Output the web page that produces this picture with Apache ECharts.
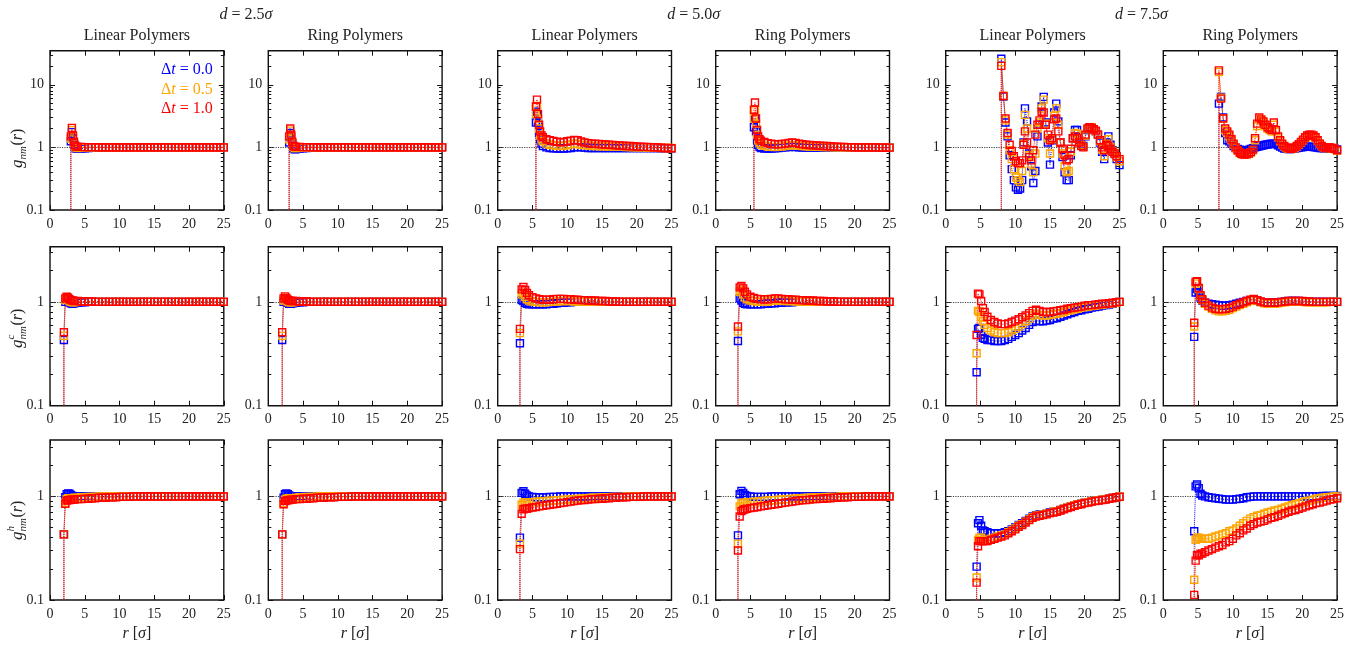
<!DOCTYPE html>
<html>
<head>
<meta charset="utf-8">
<script src="https://cdn.jsdelivr.net/npm/echarts@6/dist/echarts.min.js"></script>
<style>
  html, body { margin: 0; padding: 0; background: #fff; }
  #chart { width: 1367px; height: 654px; }
</style>
</head>
<body>
<div id="chart"></div>
<script>
// ---------- sampling grids r [sigma] ----------
const R_G25 = [3.0,3.15,3.3,3.45,3.6,3.8,4.0,
  4.5,5,5.5,6,6.5,7,7.5,8,8.5,9,
  9.5,10,10.5,11,11.5,12,12.5,13,13.5,14,
  14.5,15,15.5,16,16.5,17,17.5,18,18.5,19,
  19.5,20,20.5,21,21.5,22,22.5,23,23.5,24,
  24.5,25];
const R_C25 = [2.0,2.2,2.4,2.6,2.8,3.0,3.25,3.5,
  4,4.5,5,5.5,6,6.5,7,7.5,8,8.5,
  9,9.5,10,10.5,11,11.5,12,12.5,13,13.5,
  14,14.5,15,15.5,16,16.5,17,17.5,18,18.5,
  19,19.5,20,20.5,21,21.5,22,22.5,23,23.5,
  24,24.5,25];
const R_G50 = [5.5,5.65,5.8,5.95,6.1,6.3,6.5,
  7,7.5,8,8.5,9,9.5,10,10.5,11,11.5,
  12,12.5,13,13.5,14,14.5,15,15.5,16,16.5,
  17,17.5,18,18.5,19,19.5,20,20.5,21,21.5,
  22,22.5,23,23.5,24,24.5,25];
const R_C50 = [3.2,3.45,3.7,3.95,4.2,
  4.5,5,5.5,6,6.5,7,7.5,8,8.5,9,
  9.5,10,10.5,11,11.5,12,12.5,13,13.5,14,
  14.5,15,15.5,16,16.5,17,17.5,18,18.5,19,
  19.5,20,20.5,21,21.5,22,22.5,23,23.5,24,
  24.5,25];
const R_G75 = [8.0,8.3,8.6,8.9,9.2,9.5,9.8,10.1,10.4,10.7,
  11.0,11.2,11.4,11.7,12.0,12.3,12.6,12.9,13.2,13.5,
  13.8,14.1,14.4,14.7,15.0,15.3,15.6,15.9,16.2,16.5,
  16.8,17.1,17.4,17.7,18.0,18.3,18.6,18.9,19.2,19.5,
  19.8,20.1,20.4,20.7,21.0,21.3,21.6,21.9,22.2,22.5,
  22.8,23.1,23.4,23.7,24.0,24.3,24.6,25.0];
const R_C75 = [4.45,4.65,4.85,5.1,5.35,5.6,
  6,6.5,7,7.5,8,8.5,9,9.5,10,10.5,
  11,11.5,12,12.5,13,13.5,14,14.5,15,15.5,
  16,16.5,17,17.5,18,18.5,19,19.5,20,20.5,
  21,21.5,22,22.5,23,23.5,24,24.5,25];

// ---------- g_nm(r), d = 2.5 ----------
const G_LIN25_B = [1.25,1.75,1.4,1.12,1.0,0.96,0.95,
  0.96,0.97,0.98,0.99,0.99,1,1,1,1,1,
  1,1,1,1,1,1,1,1,1,1,
  1,1,1,1,1,1,1,1,1,1,
  1,1,1,1,1,1,1,1,1,1,
  1,1];
const G_LIN25_O = [1.38,1.9,1.5,1.17,1.03,0.99,0.98,
  0.99,0.99,1,1,1,1,1,1,1,1,
  1,1,1,1,1,1,1,1,1,1,
  1,1,1,1,1,1,1,1,1,1,
  1,1,1,1,1,1,1,1,1,1,
  1,1];
const G_LIN25_R = [1.5,2.05,1.55,1.22,1.07,1.03,1.02,
  1.02,1.01,1.01,1.01,1.01,1,1,1,1,1,
  1,1,1,1,1,1,1,1,1,1,
  1,1,1,1,1,1,1,1,1,1,
  1,1,1,1,1,1,1,1,1,1,
  1,1];
const G_RING25_B = [1.2,1.7,1.45,1.15,0.98,0.93,0.94,
  0.96,0.97,0.98,0.99,1,1,1,1,1,1,
  1,1,1,1,1,1,1,1,1,1,
  1,1,1,1,1,1,1,1,1,1,
  1,1,1,1,1,1,1,1,1,1,
  1,1];
const G_RING25_O = [1.35,1.85,1.5,1.18,1.02,0.98,0.98,
  0.99,0.99,1,1,1,1,1,1,1,1,
  1,1,1,1,1,1,1,1,1,1,
  1,1,1,1,1,1,1,1,1,1,
  1,1,1,1,1,1,1,1,1,1,
  1,1];
const G_RING25_R = [1.5,2.0,1.6,1.22,1.06,1.03,1.02,
  1.02,1.01,1.01,1.01,1,1,1,1,1,1,
  1,1,1,1,1,1,1,1,1,1,
  1,1,1,1,1,1,1,1,1,1,
  1,1,1,1,1,1,1,1,1,1,
  1,1];

// ---------- g^c_nm(r), d = 2.5 ----------
const GC_LIN25_B = [0.43,1.0,1.05,1.02,0.99,0.97,0.96,0.97,
  0.98,0.99,0.99,1,1,1,1,1,1,1,
  1,1,1,1,1,1,1,1,1,1,
  1,1,1,1,1,1,1,1,1,1,
  1,1,1,1,1,1,1,1,1,1,
  1,1,1];
const GC_LIN25_O = [0.47,1.04,1.09,1.06,1.02,1.0,0.99,0.99,
  1,1,1,1,1,1,1,1,1,1,
  1,1,1,1,1,1,1,1,1,1,
  1,1,1,1,1,1,1,1,1,1,
  1,1,1,1,1,1,1,1,1,1,
  1,1,1];
const GC_LIN25_R = [0.51,1.08,1.12,1.1,1.06,1.04,1.03,1.02,
  1.02,1.01,1.01,1.01,1.01,1,1,1,1,1,
  1,1,1,1,1,1,1,1,1,1,
  1,1,1,1,1,1,1,1,1,1,
  1,1,1,1,1,1,1,1,1,1,
  1,1,1];
const GC_RING25_B = [0.43,1.0,1.06,1.02,0.98,0.96,0.96,0.97,
  0.98,0.99,0.99,1,1,1,1,1,1,1,
  1,1,1,1,1,1,1,1,1,1,
  1,1,1,1,1,1,1,1,1,1,
  1,1,1,1,1,1,1,1,1,1,
  1,1,1];
const GC_RING25_O = [0.47,1.03,1.09,1.05,1.01,0.99,0.99,0.99,
  1,1,1,1,1,1,1,1,1,1,
  1,1,1,1,1,1,1,1,1,1,
  1,1,1,1,1,1,1,1,1,1,
  1,1,1,1,1,1,1,1,1,1,
  1,1,1];
const GC_RING25_R = [0.51,1.08,1.13,1.09,1.05,1.03,1.02,1.02,
  1.02,1.01,1.01,1.01,1,1,1,1,1,1,
  1,1,1,1,1,1,1,1,1,1,
  1,1,1,1,1,1,1,1,1,1,
  1,1,1,1,1,1,1,1,1,1,
  1,1,1];

// ---------- g^h_nm(r), d = 2.5 ----------
const GH_LIN25_B = [0.43,0.98,1.05,1.07,1.06,1.03,1.01,1.0,
  1,1,1,1,1,1,1,1,1,1,
  1,1,1,1,1,1,1,1,1,1,
  1,1,1,1,1,1,1,1,1,1,
  1,1,1,1,1,1,1,1,1,1,
  1,1,1];
const GH_LIN25_O = [0.43,0.87,0.94,0.96,0.96,0.96,0.96,0.97,
  0.97,0.98,0.98,0.99,0.99,0.99,1,1,1,1,
  1,1,1,1,1,1,1,1,1,1,
  1,1,1,1,1,1,1,1,1,1,
  1,1,1,1,1,1,1,1,1,1,
  1,1,1];
const GH_LIN25_R = [0.43,0.85,0.91,0.92,0.92,0.93,0.93,0.93,
  0.94,0.94,0.95,0.95,0.96,0.96,0.97,0.97,0.97,0.98,
  0.98,0.98,0.99,0.99,0.99,0.99,1,1,1,1,
  1,1,1,1,1,1,1,1,1,1,
  1,1,1,1,1,1,1,1,1,1,
  1,1,1];
const GH_RING25_B = [0.43,0.97,1.05,1.07,1.05,1.02,1.0,1.0,
  1,1,1,1,1,1,1,1,1,1,
  1,1,1,1,1,1,1,1,1,1,
  1,1,1,1,1,1,1,1,1,1,
  1,1,1,1,1,1,1,1,1,1,
  1,1,1];
const GH_RING25_O = [0.43,0.86,0.93,0.95,0.95,0.96,0.96,0.96,
  0.97,0.98,0.98,0.99,0.99,0.99,1,1,1,1,
  1,1,1,1,1,1,1,1,1,1,
  1,1,1,1,1,1,1,1,1,1,
  1,1,1,1,1,1,1,1,1,1,
  1,1,1];
const GH_RING25_R = [0.43,0.84,0.9,0.91,0.92,0.92,0.93,0.93,
  0.94,0.94,0.95,0.95,0.96,0.96,0.97,0.97,0.97,0.98,
  0.98,0.98,0.99,0.99,0.99,0.99,1,1,1,1,
  1,1,1,1,1,1,1,1,1,1,
  1,1,1,1,1,1,1,1,1,1,
  1,1,1];

// ---------- g_nm(r), d = 5.0 ----------
const G_LIN50_B = [2.5,3.7,2.5,1.7,1.35,1.15,1.05,
  1.0,0.98,0.97,0.96,0.96,0.96,0.97,0.98,1.0,1.01,
  1.0,0.99,0.98,0.98,0.98,0.98,0.98,0.98,0.98,0.98,
  0.98,0.98,0.98,0.98,0.98,0.98,0.98,0.98,0.98,0.98,
  0.98,0.98,0.98,0.97,0.97,0.97,0.97];
const G_LIN50_O = [3.4,4.6,2.9,2.0,1.55,1.35,1.25,
  1.15,1.1,1.08,1.06,1.05,1.06,1.08,1.12,1.15,1.13,
  1.1,1.08,1.07,1.06,1.05,1.05,1.04,1.04,1.03,1.03,
  1.02,1.02,1.02,1.01,1.01,1.0,1.0,1.0,1.0,0.99,
  0.99,0.99,0.99,0.98,0.98,0.98,0.98];
const G_LIN50_R = [4.5,5.8,3.4,2.3,1.8,1.55,1.45,
  1.35,1.3,1.27,1.23,1.21,1.22,1.25,1.28,1.32,1.3,
  1.24,1.2,1.17,1.15,1.14,1.13,1.12,1.11,1.1,1.09,
  1.08,1.07,1.06,1.05,1.05,1.04,1.03,1.03,1.02,1.02,
  1.01,1.0,1.0,0.99,0.98,0.98,0.97];
const G_RING50_B = [2.1,2.9,1.8,1.3,1.1,1.02,0.98,
  0.96,0.96,0.96,0.97,0.98,0.99,1.0,1.01,1.02,1.01,
  1.0,0.99,0.99,0.99,0.99,0.99,0.99,0.99,0.99,0.99,
  0.99,0.99,0.99,0.99,0.99,0.99,0.99,0.99,0.99,0.99,
  0.99,0.99,0.99,0.99,0.99,0.99,0.99];
const G_RING50_O = [2.9,3.9,2.4,1.6,1.3,1.17,1.1,
  1.06,1.03,1.02,1.01,1.02,1.03,1.05,1.07,1.09,1.08,
  1.06,1.05,1.04,1.03,1.03,1.02,1.02,1.01,1.01,1.01,
  1,1,1,1,1,1,1,1,1,1,
  1,1,1,0.99,0.99,0.99,0.99];
const G_RING50_R = [4.0,5.2,2.9,1.9,1.5,1.35,1.28,
  1.22,1.17,1.14,1.12,1.12,1.13,1.15,1.18,1.2,1.18,
  1.14,1.12,1.1,1.09,1.08,1.07,1.06,1.05,1.05,1.04,
  1.03,1.03,1.02,1.02,1.01,1.01,1,1,1,1,
  1,1,1,0.99,0.99,0.99,0.99];

// ---------- g^c_nm(r), d = 5.0 ----------
const GC_LIN50_B = [0.40,1.04,1.02,0.98,0.96,
  0.95,0.95,0.95,0.95,0.95,0.95,0.96,0.96,0.97,0.98,
  0.98,0.99,0.99,1,1,1,1,1,1,1,
  1,1,1,1,1,1,1,1,1,1,
  1,1,1,1,1,1,1,1,1,1,
  1,1];
const GC_LIN50_O = [0.50,1.18,1.22,1.12,1.06,
  1.03,1.01,1.0,0.99,0.99,0.99,1.0,1.0,1.01,1.02,
  1.02,1.02,1.02,1.01,1.01,1.01,1,1,1,1,
  1,1,1,1,1,1,1,1,1,1,
  1,1,1,1,1,1,1,1,1,1,
  1,1];
const GC_LIN50_R = [0.55,1.32,1.39,1.3,1.22,
  1.16,1.11,1.08,1.06,1.05,1.05,1.05,1.06,1.07,1.07,
  1.07,1.06,1.06,1.05,1.05,1.04,1.04,1.03,1.03,1.03,
  1.02,1.02,1.02,1.01,1.01,1.01,1,1,1,1,
  1,1,1,1,1,1,1,1,1,1,
  1,1];
const GC_RING50_B = [0.42,1.08,1.03,0.98,0.96,
  0.95,0.95,0.95,0.95,0.95,0.96,0.96,0.97,0.97,0.98,
  0.98,0.99,0.99,0.99,1,1,1,1,1,1,
  1,1,1,1,1,1,1,1,1,1,
  1,1,1,1,1,1,1,1,1,1,
  1,1];
const GC_RING50_O = [0.52,1.25,1.3,1.18,1.1,
  1.06,1.03,1.02,1.01,1.0,1.0,1.01,1.02,1.03,1.03,
  1.03,1.02,1.02,1.02,1.01,1.01,1.01,1,1,1,
  1,1,1,1,1,1,1,1,1,1,
  1,1,1,1,1,1,1,1,1,1,
  1,1];
const GC_RING50_R = [0.58,1.38,1.42,1.35,1.25,
  1.18,1.12,1.09,1.07,1.06,1.06,1.06,1.07,1.08,1.08,
  1.07,1.06,1.06,1.05,1.05,1.04,1.04,1.03,1.03,1.03,
  1.02,1.02,1.02,1.01,1.01,1.01,1,1,1,1,
  1,1,1,1,1,1,1,1,1,1,
  1,1];

// ---------- g^h_nm(r), d = 5.0 ----------
const GH_LIN50_B = [0.40,1.08,1.12,1.06,1.02,
  1.0,0.99,0.98,0.98,0.98,0.98,0.99,0.99,0.99,1,
  1,1,1,1,1,1,1,1,1,1,
  1,1,1,1,1,1,1,1,1,1,
  1,1,1,1,1,1,1,1,1,1,
  1,1];
const GH_LIN50_O = [0.35,0.83,0.87,0.88,0.88,
  0.88,0.88,0.89,0.89,0.9,0.9,0.91,0.91,0.92,0.92,
  0.93,0.93,0.94,0.94,0.95,0.95,0.96,0.96,0.97,0.97,
  0.97,0.98,0.98,0.98,0.99,0.99,0.99,0.99,1,1,
  1,1,1,1,1,1,1,1,1,1,
  1,1];
const GH_LIN50_R = [0.31,0.68,0.75,0.76,0.76,
  0.77,0.78,0.79,0.8,0.81,0.82,0.83,0.84,0.85,0.86,
  0.87,0.88,0.89,0.9,0.91,0.92,0.92,0.93,0.94,0.94,
  0.95,0.95,0.96,0.96,0.97,0.97,0.98,0.98,0.98,0.99,
  0.99,0.99,0.99,1,1,1,1,1,1,1,
  1,1];
const GH_RING50_B = [0.42,1.05,1.13,1.08,1.03,
  1.01,1.0,0.99,0.99,0.99,0.99,0.99,1,1,1,
  1,1,1,1,1,1,1,1,1,1,
  1,1,1,1,1,1,1,1,1,1,
  1,1,1,1,1,1,1,1,1,1,
  1,1];
const GH_RING50_O = [0.35,0.8,0.86,0.87,0.87,
  0.88,0.88,0.89,0.89,0.9,0.91,0.91,0.92,0.92,0.93,
  0.93,0.94,0.94,0.95,0.95,0.96,0.96,0.97,0.97,0.97,
  0.98,0.98,0.98,0.99,0.99,0.99,0.99,1,1,1,
  1,1,1,1,1,1,1,1,1,1,
  1,1];
const GH_RING50_R = [0.30,0.64,0.72,0.74,0.75,
  0.76,0.77,0.78,0.79,0.8,0.81,0.82,0.83,0.84,0.85,
  0.86,0.87,0.88,0.89,0.9,0.91,0.92,0.92,0.93,0.94,
  0.94,0.95,0.95,0.96,0.96,0.97,0.97,0.98,0.98,0.98,
  0.99,0.99,0.99,0.99,1,1,1,1,1,1,
  1,1];

// ---------- g_nm(r), d = 7.5 ----------
const G_LIN75_B = [26,6.5,2.5,1.5,0.75,0.45,0.3,0.23,0.21,0.22,
  0.3,1.2,4.2,2.6,0.8,0.5,0.27,0.42,1.5,2.3,
  4.5,6.4,2.5,1.2,0.53,1.3,3.6,5.0,2.6,1.2,
  0.7,0.4,0.3,0.3,0.75,1.4,1.9,1.9,1.3,1.1,
  1.05,1.5,1.9,2.1,2.1,1.95,1.8,1.6,1.2,0.85,
  0.65,1.2,1.5,1.1,0.9,0.78,0.65,0.52];
const G_LIN75_O = [23,6.6,2.7,1.6,0.9,0.65,0.45,0.33,0.3,0.28,
  0.42,1.15,3.3,2.0,0.75,0.55,0.4,0.8,2.0,2.5,
  4.2,5.8,2.4,1.4,0.8,1.35,3.2,4.2,2.3,1.2,
  0.8,0.5,0.4,0.42,0.85,1.4,1.7,1.65,1.25,1.08,
  1.02,1.55,1.95,2.1,2.1,1.95,1.8,1.6,1.25,0.92,
  0.72,1.15,1.35,1.0,0.88,0.8,0.7,0.6];
const G_LIN75_R = [20,6.6,2.9,1.7,1.1,0.88,0.72,0.6,0.56,0.56,
  0.62,1.1,1.8,1.2,0.7,0.62,0.9,1.6,2.3,2.7,
  3.7,3.6,2.3,1.6,1.3,1.4,2.8,2.9,1.8,1.2,
  0.95,0.75,0.62,0.65,0.95,1.4,1.5,1.4,1.2,1.05,
  1.0,1.6,2.0,2.1,2.05,1.95,1.85,1.6,1.3,1.0,
  0.9,1.1,1.05,0.95,0.85,0.8,0.72,0.65];
const G_RING75_B = [5.0,6.4,3.0,1.7,1.3,1.25,1.15,1.05,0.98,0.94,
  0.92,0.9,0.9,0.9,0.9,0.92,0.94,0.97,1.0,1.02,
  1.04,1.06,1.08,1.1,1.11,1.13,1.14,1.15,1.13,1.08,
  1.03,0.99,0.96,0.95,0.94,0.94,0.95,0.96,0.98,0.99,
  1.0,1.01,1.02,1.03,1.03,1.02,1.01,1.0,0.99,0.98,
  0.98,0.97,0.97,0.97,0.97,0.96,0.95,0.93];
const G_RING75_O = [16,6.2,2.9,1.9,1.7,1.5,1.3,1.12,0.98,0.88,
  0.82,0.79,0.77,0.76,0.77,0.79,0.83,0.9,1.3,2.2,
  2.8,2.7,2.5,2.2,2.0,1.9,1.8,2.3,1.8,1.45,
  1.25,1.12,1.03,0.98,0.95,0.94,0.95,0.98,1.03,1.1,
  1.2,1.3,1.42,1.52,1.57,1.57,1.52,1.42,1.28,1.13,
  1.04,0.99,0.97,0.99,0.99,0.97,0.94,0.89];
const G_RING75_R = [17,6.0,2.9,2.0,1.8,1.6,1.35,1.15,1.0,0.9,
  0.83,0.8,0.78,0.77,0.78,0.8,0.84,0.92,1.4,2.4,
  3.0,2.8,2.6,2.3,2.1,2.0,1.9,2.5,1.9,1.5,
  1.3,1.15,1.05,1.0,0.97,0.95,0.96,1.0,1.05,1.12,
  1.22,1.33,1.45,1.55,1.6,1.6,1.55,1.45,1.3,1.15,
  1.05,1.0,0.98,1.0,1.0,0.98,0.95,0.9];

// ---------- g^c_nm(r), d = 7.5 ----------
const GC_LIN75_B = [0.21,0.55,0.56,0.48,0.45,0.44,
  0.43,0.43,0.42,0.42,0.42,0.43,0.44,0.46,0.48,0.5,
  0.53,0.56,0.6,0.64,0.66,0.65,0.65,0.66,0.67,0.69,
  0.7,0.72,0.74,0.76,0.78,0.8,0.82,0.83,0.85,0.86,
  0.88,0.89,0.9,0.92,0.93,0.94,0.96,0.98,1.0];
const GC_LIN75_O = [0.32,0.82,0.8,0.72,0.65,0.6,
  0.56,0.53,0.51,0.5,0.5,0.5,0.51,0.53,0.55,0.58,
  0.61,0.65,0.69,0.74,0.77,0.75,0.74,0.74,0.75,0.76,
  0.77,0.78,0.8,0.82,0.83,0.85,0.86,0.88,0.89,0.9,
  0.91,0.92,0.93,0.94,0.95,0.96,0.97,0.98,1.0];
const GC_LIN75_R = [0.48,1.2,1.18,1.02,0.87,0.8,
  0.72,0.67,0.64,0.62,0.61,0.61,0.62,0.64,0.66,0.68,
  0.71,0.74,0.78,0.82,0.84,0.82,0.8,0.8,0.8,0.81,
  0.82,0.83,0.84,0.86,0.87,0.88,0.89,0.9,0.92,0.93,
  0.93,0.94,0.95,0.96,0.96,0.97,0.98,0.99,1.0];
const GC_RING75_B = [0.46,1.23,1.33,1.24,1.1,1.03,
  0.98,0.96,0.95,0.94,0.93,0.92,0.92,0.93,0.94,0.96,
  0.98,1.0,1.02,1.04,1.05,1.03,1.0,0.99,0.98,0.98,
  0.98,0.99,1.0,1.01,1.02,1.02,1.02,1.02,1.01,1.01,
  1.0,1.0,1.0,1.0,1.0,1.0,1.0,1.0,1.0];
const GC_RING75_O = [0.58,1.5,1.55,1.34,1.14,1.04,
  0.96,0.9,0.86,0.83,0.81,0.81,0.82,0.84,0.87,0.9,
  0.93,0.96,0.99,1.02,1.05,1.03,0.99,0.97,0.96,0.96,
  0.96,0.97,0.98,0.99,1.0,1.0,1.0,1.0,1.0,0.99,
  0.99,0.99,0.99,0.99,0.99,0.99,1.0,1.0,1.0];
const GC_RING75_R = [0.63,1.56,1.58,1.36,1.16,1.06,
  0.98,0.92,0.88,0.86,0.85,0.85,0.86,0.87,0.9,0.93,
  0.96,0.99,1.02,1.05,1.07,1.04,1.01,0.99,0.98,0.98,
  0.98,0.99,1.0,1.01,1.02,1.02,1.02,1.02,1.02,1.01,
  1.01,1.0,1.0,1.0,1.0,1.0,1.0,1.0,1.0];

// ---------- g^h_nm(r), d = 7.5 ----------
const GH_LIN75_B = [0.21,0.55,0.59,0.52,0.47,0.46,
  0.45,0.44,0.44,0.44,0.44,0.45,0.46,0.48,0.5,0.53,
  0.55,0.58,0.61,0.64,0.66,0.67,0.67,0.68,0.7,0.71,
  0.72,0.74,0.76,0.78,0.8,0.82,0.84,0.85,0.87,0.88,
  0.9,0.91,0.92,0.93,0.94,0.95,0.97,0.98,1.0];
const GH_LIN75_O = [0.165,0.38,0.4,0.4,0.38,0.38,
  0.38,0.39,0.4,0.41,0.42,0.43,0.45,0.47,0.49,0.52,
  0.54,0.57,0.6,0.63,0.65,0.66,0.67,0.68,0.69,0.71,
  0.72,0.74,0.76,0.78,0.8,0.82,0.84,0.85,0.87,0.88,
  0.9,0.91,0.92,0.93,0.94,0.95,0.97,0.98,1.0];
const GH_LIN75_R = [0.147,0.33,0.37,0.37,0.37,0.37,
  0.37,0.38,0.39,0.4,0.41,0.42,0.44,0.46,0.48,0.51,
  0.53,0.56,0.59,0.62,0.64,0.65,0.66,0.67,0.69,0.7,
  0.71,0.73,0.75,0.77,0.79,0.81,0.83,0.84,0.86,0.87,
  0.89,0.9,0.91,0.92,0.93,0.95,0.96,0.98,0.99];
const GH_RING75_B = [0.46,1.25,1.3,1.2,1.06,1.02,
  1.0,0.98,0.97,0.96,0.95,0.94,0.93,0.93,0.93,0.94,
  0.95,0.96,0.98,0.99,1.0,1.0,1.0,1.0,1.0,1.0,
  1.0,1.0,1.0,1.0,1.0,1.0,1.0,1.0,1.0,1.0,
  1.0,1.0,1.0,1.0,1.01,1.01,1.01,1.01,1.01];
const GH_RING75_O = [0.157,0.38,0.4,0.4,0.39,0.39,
  0.39,0.39,0.4,0.41,0.42,0.43,0.44,0.46,0.47,0.49,
  0.52,0.55,0.58,0.61,0.63,0.65,0.66,0.68,0.7,0.71,
  0.73,0.74,0.76,0.78,0.8,0.82,0.84,0.86,0.88,0.9,
  0.91,0.93,0.95,0.96,0.97,0.98,0.99,1.0,1.0];
const GH_RING75_R = [0.112,0.24,0.27,0.27,0.28,0.28,
  0.29,0.3,0.31,0.32,0.33,0.34,0.36,0.37,0.39,0.42,
  0.44,0.47,0.49,0.52,0.54,0.56,0.57,0.58,0.6,0.62,
  0.63,0.65,0.67,0.69,0.71,0.73,0.74,0.76,0.78,0.8,
  0.82,0.84,0.86,0.87,0.89,0.91,0.93,0.94,0.96];

// ---------- labels ----------
const SEPARATIONS = ['2.5', '5.0', '7.5'];
const COLUMN_TITLES = ['Linear Polymers', 'Ring Polymers'];
const DT_VALUES = ['0.0', '0.5', '1.0'];
const ROW_SUPERSCRIPTS = ['', 'c', 'h'];
const X_TICKS_STEP = 5;
const MAJOR_TICKS = [0.1, 1, 10];
const MINOR_TICKS = [0.2,0.3,0.4,0.5,0.6,0.7,0.8,0.9,2,3,4,5,6,7,8,9,20,30];
const REF_LEVEL = 1;
const CONTACT_FLOOR = 1e-3;   // g = 0 inside the contact distance, below the log range

// ---------- panels: [row, column, r-grid, [dt=0.0, dt=0.5, dt=1.0]] ----------
const PANELS = [
  [0,0,R_G25,[G_LIN25_B,G_LIN25_O,G_LIN25_R]],
  [0,1,R_G25,[G_RING25_B,G_RING25_O,G_RING25_R]],
  [0,2,R_G50,[G_LIN50_B,G_LIN50_O,G_LIN50_R]],
  [0,3,R_G50,[G_RING50_B,G_RING50_O,G_RING50_R]],
  [0,4,R_G75,[G_LIN75_B,G_LIN75_O,G_LIN75_R]],
  [0,5,R_G75,[G_RING75_B,G_RING75_O,G_RING75_R]],
  [1,0,R_C25,[GC_LIN25_B,GC_LIN25_O,GC_LIN25_R]],
  [1,1,R_C25,[GC_RING25_B,GC_RING25_O,GC_RING25_R]],
  [1,2,R_C50,[GC_LIN50_B,GC_LIN50_O,GC_LIN50_R]],
  [1,3,R_C50,[GC_RING50_B,GC_RING50_O,GC_RING50_R]],
  [1,4,R_C75,[GC_LIN75_B,GC_LIN75_O,GC_LIN75_R]],
  [1,5,R_C75,[GC_RING75_B,GC_RING75_O,GC_RING75_R]],
  [2,0,R_C25,[GH_LIN25_B,GH_LIN25_O,GH_LIN25_R]],
  [2,1,R_C25,[GH_RING25_B,GH_RING25_O,GH_RING25_R]],
  [2,2,R_C50,[GH_LIN50_B,GH_LIN50_O,GH_LIN50_R]],
  [2,3,R_C50,[GH_RING50_B,GH_RING50_O,GH_RING50_R]],
  [2,4,R_C75,[GH_LIN75_B,GH_LIN75_O,GH_LIN75_R]],
  [2,5,R_C75,[GH_RING75_B,GH_RING75_O,GH_RING75_R]]
];

// ---------- layout and style ----------
const FONT = 'Liberation Serif';
const INK = '#222';
const COLORS = ['#0000ff', '#ffa500', '#ff0000'];
const COL_LEFT = [50, 268.3, 497.7, 715.7, 945.7, 1163.3];
const COL_W = 173.8;
const ROW_TOP = [50.7, 246.7, 440];
const ROW_H = [159.3, 159, 160];
const Y_MAX = [35, 3.4, 3.5];
const YLABEL_CY = [148, 328, 520];

function fmtLog(v) {
  return v < 1 ? (Math.round(v * 10) / 10).toFixed(1) : String(Math.round(v));
}

function xAxisDef(gi, position, withLabels) {
  return {
    gridIndex: gi, type: 'value', min: 0, max: 25, interval: X_TICKS_STEP, position,
    axisLine: { show: false, onZero: false },
    splitLine: { show: false },
    axisTick: { show: true, inside: true, length: 5, lineStyle: { color: '#111', width: 1 } },
    axisLabel: withLabels
      ? { show: true, fontFamily: FONT, fontSize: 14, color: INK, margin: 7 }
      : { show: false }
  };
}

function yAxisDef(gi, row, position, ticks, len, labels) {
  return {
    gridIndex: gi, type: 'log', logBase: 10, min: 0.1, max: Y_MAX[row], position,
    axisLine: { show: false, onZero: false },
    splitLine: { show: false },
    minorTick: { show: false },
    axisTick: { show: true, inside: true, length: len, customValues: ticks,
                lineStyle: { color: '#111', width: 1 } },
    axisLabel: labels
      ? { show: true, customValues: ticks, formatter: fmtLog,
          fontFamily: FONT, fontSize: 14, color: INK, margin: 6 }
      : { show: false }
  };
}

const grids = [], xAxes = [], yAxes = [], series = [];

PANELS.forEach(([row, col, rGrid, sets], gi) => {
  grids.push({
    left: COL_LEFT[col], top: ROW_TOP[row], width: COL_W, height: ROW_H[row],
    show: true, borderColor: '#111', borderWidth: 1.4, backgroundColor: 'transparent'
  });
  const xi = xAxes.length;
  xAxes.push(xAxisDef(gi, 'bottom', true), xAxisDef(gi, 'top', false));
  const yi = yAxes.length;
  const majors = MAJOR_TICKS.filter(v => v <= Y_MAX[row]);
  const minors = MINOR_TICKS.filter(v => v < Y_MAX[row]);
  yAxes.push(
    yAxisDef(gi, row, 'left', majors, 5, true),
    yAxisDef(gi, row, 'left', minors, 3, false),
    yAxisDef(gi, row, 'right', majors, 5, false),
    yAxisDef(gi, row, 'right', minors, 3, false)
  );
  sets.forEach((vals, k) => {
    const data = [{ value: [rGrid[0], CONTACT_FLOOR], symbol: 'none' }]
      .concat(rGrid.map((r, j) => [r, vals[j]]));
    const s = {
      type: 'line', xAxisIndex: xi, yAxisIndex: yi, data,
      symbol: 'rect', symbolSize: 7, showSymbol: true, clip: true,
      itemStyle: { color: 'rgba(0,0,0,0)', borderColor: COLORS[k], borderWidth: 1.4 },
      lineStyle: { color: COLORS[k], width: 1, type: 'dotted' },
      emphasis: { disabled: true }, silent: true, animation: false, z: 2
    };
    if (k === 0) {
      s.markLine = {
        silent: true, symbol: ['none', 'none'], animation: false, z: 1,
        label: { show: false },
        lineStyle: { color: '#444', width: 1.2, type: 'dotted' },
        emphasis: { disabled: true },
        data: [{ yAxis: REF_LEVEL }]
      };
    }
    series.push(s);
  });
});

// ---------- text helpers ----------
function mathStyle(parts, size, color) {
  return {
    text: parts.map(([s, it]) => '{' + (it ? 'i' : 'n') + '|' + s + '}').join(''),
    rich: {
      i: { fontStyle: 'italic', fontSize: size, fontFamily: FONT, fill: color },
      n: { fontStyle: 'normal', fontSize: size, fontFamily: FONT, fill: color }
    },
    fontSize: size, fontFamily: FONT, fill: color
  };
}
function textEl(x, y, style, align) {
  return { type: 'text', x, y, silent: true,
           style: Object.assign(style, { align: align || 'center', verticalAlign: 'middle' }) };
}

const graphics = [];

// separation headers over each pair of columns
SEPARATIONS.forEach((d, p) => {
  const cx = (COL_LEFT[2 * p] + COL_LEFT[2 * p + 1] + COL_W) / 2;
  graphics.push(textEl(cx, 15, mathStyle([['d', true], [' = ' + d, false], ['σ', true]], 16, INK)));
});
// column titles and r axis names
COL_LEFT.forEach((l, c) => {
  graphics.push(textEl(l + COL_W / 2, 36,
    { text: COLUMN_TITLES[c % 2], fontSize: 16, fontFamily: FONT, fill: INK }));
  graphics.push(textEl(l + COL_W / 2, 634,
    mathStyle([['r', true], [' [', false], ['σ', true], [']', false]], 16, INK)));
});
// time-step key inside the first panel
DT_VALUES.forEach((v, k) => {
  graphics.push(textEl(COL_LEFT[0] + COL_W - 11, 70 + 19.5 * k,
    mathStyle([['Δ', false], ['t', true], [' = ' + v, false]], 16, COLORS[k]), 'right'));
});
// rotated row labels g_nm(r), g^c_nm(r), g^h_nm(r)
ROW_SUPERSCRIPTS.forEach((sup, row) => {
  const kids = [
    { type: 'text', x: -20, y: 0, style: { text: 'g', fontStyle: 'italic', fontSize: 17, fontFamily: FONT, fill: INK, align: 'left', verticalAlign: 'middle' } },
    { type: 'text', x: -11.5, y: 5, style: { text: 'nm', fontStyle: 'italic', fontSize: 11, fontFamily: FONT, fill: INK, align: 'left', verticalAlign: 'middle' } },
    { type: 'text', x: 2.5, y: 0, style: Object.assign(mathStyle([['(', false], ['r', true], [')', false]], 16, INK), { align: 'left', verticalAlign: 'middle' }) }
  ];
  if (sup) {
    kids.push({ type: 'text', x: -11.5, y: -7, style: { text: sup, fontStyle: 'italic', fontSize: 11, fontFamily: FONT, fill: INK, align: 'left', verticalAlign: 'middle' } });
  }
  graphics.push({ type: 'group', x: 18, y: YLABEL_CY[row], rotation: Math.PI / 2, silent: true, children: kids });
});

const chart = echarts.init(document.getElementById('chart'), null, { width: 1367, height: 654 });
chart.setOption({
  backgroundColor: '#fff',
  animation: false,
  textStyle: { fontFamily: FONT },
  grid: grids,
  xAxis: xAxes,
  yAxis: yAxes,
  series,
  graphic: graphics
});
</script>
</body>
</html>
